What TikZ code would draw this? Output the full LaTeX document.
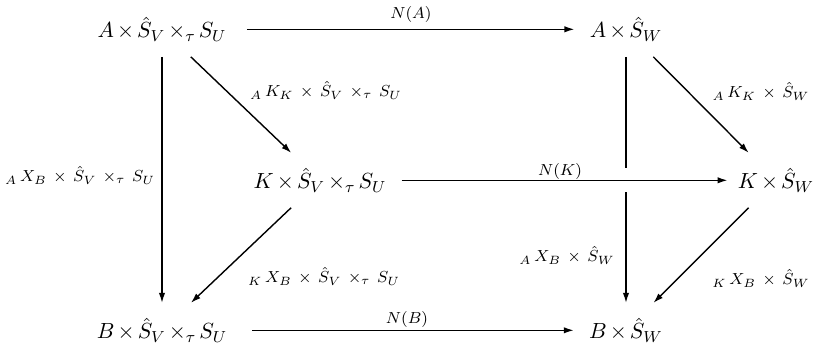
\documentclass[tikz,border=0pt]{standalone}
\usetikzlibrary{arrows.meta,calc}
\DeclareMathSizes{8}{8}{6.5}{5}
\begin{document}
\begin{tikzpicture}[x=0.5pt,y=-0.5pt,
  obj/.style={inner sep=7.5pt, font=\fontsize{11}{13}\selectfont},
  lbl/.style={font=\footnotesize, inner sep=0pt},
  arr/.style={-{Latex[length=5pt,width=3.2pt]}, line width=0.7pt}]
\useasboundingbox (0,0) rectangle (816,351);
\newcommand{\lsp}{\medmuskip=7mu}
\newcommand{\osp}{\medmuskip=2.5mu}
% objects
\node[obj,anchor=base] (atl) at (162,38) {$\osp A\times\hat S_V\times_\tau S_U$};
\node[obj,anchor=base] (atr) at (626,38) {$\osp A\times\hat S_W$};
\node[obj,anchor=base] (k)   at (320,189) {$\osp K\times\hat S_V\times_\tau S_U$};
\node[obj,anchor=base] (kr)  at (776,189) {$\osp K\times\hat S_W$};
\node[obj,anchor=base] (bl)  at (162,339) {$\osp B\times\hat S_V\times_\tau S_U$};
\node[obj,anchor=base] (br)  at (626,339) {$\osp B\times\hat S_W$};
% arrows
\draw[arr, shorten <=2.5pt] (atl) -- (atr);
\draw[arr] (atl) -- (bl);
\draw[arr] (atl) -- (k);
\draw[arr] (atr) -- (kr);
\draw[arr] (atr) -- (br);
\fill[white] ($(atr|-k)+(-5,-12)$) rectangle ($(atr|-k)+(5,12)$);
\draw[arr, shorten >=-2.5pt] (k) -- (kr);
\draw[arr] (k) -- (bl);
\draw[arr] (kr) -- (br);
\draw[arr, shorten <=5pt] (bl) -- (br);
% labels
\node[lbl] (na) at (411,15) {$N(A)$};
\node[lbl] (nk) at (560,172) {$N(K)$};
\node[lbl] (nb) at (407,320) {$N(B)$};
\node[lbl,anchor=base] (l1) at (326,97) {$\lsp {}_A\,K_K\times\hat S_V\times_\tau S_U$};
\node[lbl,anchor=base] (l2) at (761,98) {$\lsp {}_A\,K_K\times\hat S_W$};
\node[lbl,anchor=base] (l3) at (80,182) {$\lsp {}_A\,X_B\times\hat S_V\times_\tau S_U$};
\node[lbl,anchor=base] (l4) at (324,283) {$\lsp {}_K\,X_B\times\hat S_V\times_\tau S_U$};
\node[lbl,anchor=base] (l5) at (567,262) {$\lsp {}_A\,X_B\times\hat S_W$};
\node[lbl,anchor=base] (l6) at (761,285) {$\lsp {}_K\,X_B\times\hat S_W$};
\end{tikzpicture}
\end{document}
